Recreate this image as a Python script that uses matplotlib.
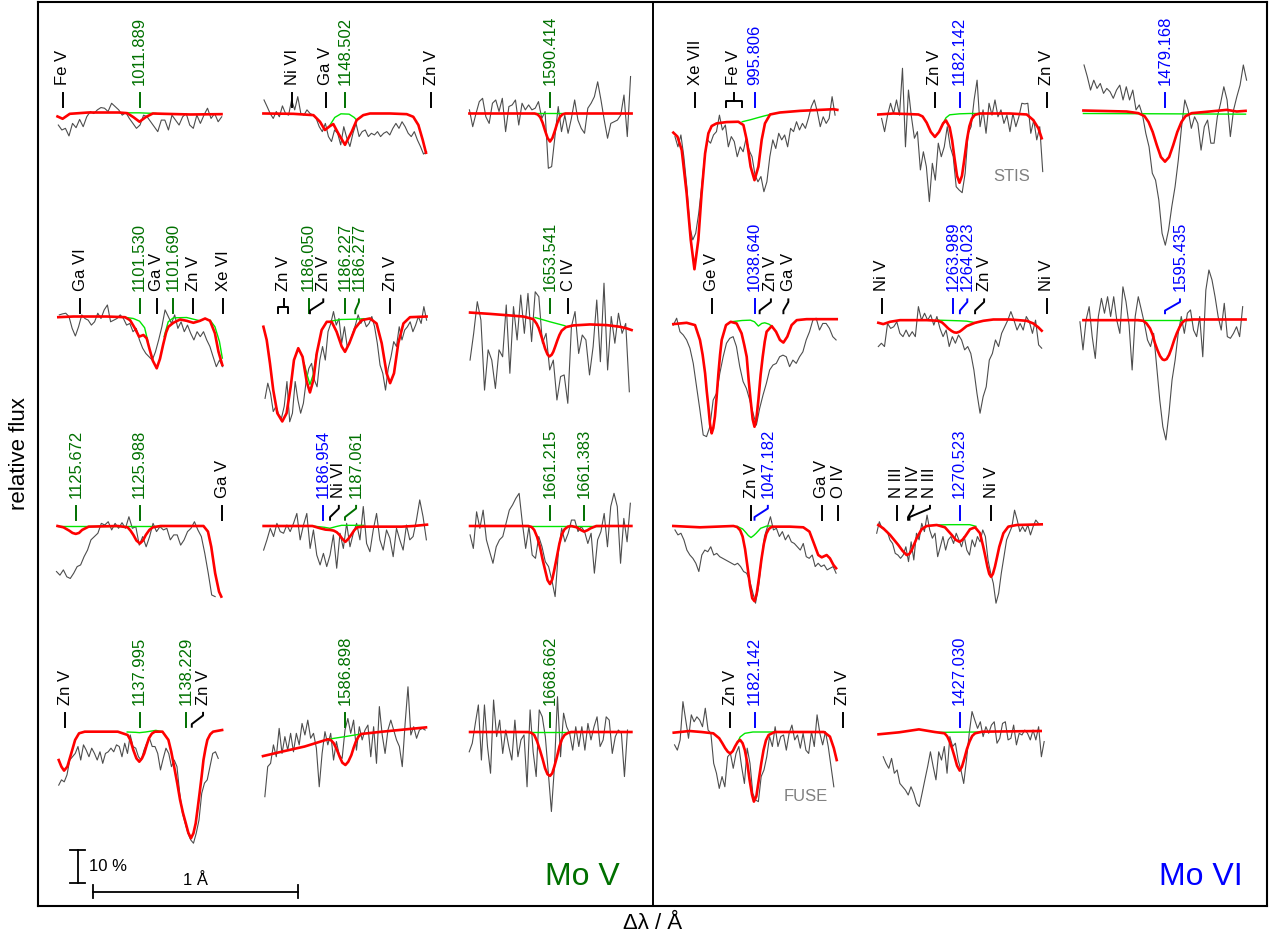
import numpy as np
import matplotlib
matplotlib.use("Agg")
import matplotlib.pyplot as plt

plt.rcParams['font.family'] = ['Liberation Sans', 'DejaVu Sans']

nan = np.nan

# ---------------- Mo V panels ----------------
# 1011.889
g_1011_rng = (-0.396, 0.401)
g_1011 = [0.962, 0.947, 0.952, 0.929, 0.967, 0.954, 0.979, 0.957, 0.987, 1.003, 0.997, 1.008, 1.015, 1.013, 1.003, 1.028,
          1.018, 1.008, 0.992, 1.0, 0.982, 0.967, 0.952, 0.962, 0.992, 0.987, 0.972, 0.957, 0.942, 0.977, 0.977, 0.947,
          0.992, 0.977, 0.962, 0.987, 0.997, 0.962, 0.952, 0.992, 0.967, 0.992, 1.013, 0.982, 0.997, 0.972, 0.987]
r_1011_dl = [-0.40, -0.375, -0.34, -0.25, -0.10, -0.06, -0.03, 0.0, 0.03, 0.065, 0.12, 0.25, 0.40]
r_1011 = [0.988, 0.981, 0.996, 1.0, 1.0, 0.998, 0.986, 0.972, 0.986, 0.997, 0.996, 0.994, 0.995]
gr_1011_dl = [-0.08, 0.0, 0.08]
gr_1011 = [0.999, 0.999, 0.997]
ids_1011 = [(-0.375, -0.375, 'Fe V', 'x'), (0.0, 0.0, '1011.889', 'v')]

# 1148.502
g_1148_rng = (-0.395, 0.398)
g_1148 = [1.038, 1.018, 0.997, 0.982, 1.003, 0.987, 1.020, 0.997, 0.992, 1.038, 1.008, 1.048, 0.997, 0.992, 1.008, 0.997,
          0.992, 0.982, 0.957, 0.942, 0.967, 0.927, 0.912, 0.947, 0.937, 0.902, 0.957, 0.922, 0.897, 0.937, 0.967, 0.927,
          0.942, 0.947, 0.927, 0.937, 0.932, 0.942, 0.927, 0.937, 0.942, 0.932, 0.952, 0.967, 0.952, 0.972, 0.957, 0.937,
          0.927, 0.942, 0.917, 0.897, 0.874, 0.881]
r_1148_dl = [-0.398, -0.252, -0.154, -0.122, -0.098, -0.073, -0.057, -0.033, 0.0, 0.033, 0.057, 0.089, 0.122, 0.22,
             0.301, 0.333, 0.358, 0.379, 0.395]
r_1148 = [0.997, 0.996, 0.992, 0.972, 0.947, 0.959, 0.965, 0.937, 0.902, 0.942, 0.977, 0.992, 0.997, 0.997, 0.995, 0.987,
          0.962, 0.917, 0.878]
gr_1148_dl = [-0.075, -0.05, -0.02, 0.02, 0.045, 0.057]
gr_1148 = [0.96, 0.985, 0.996, 0.995, 0.985, 0.977]
ids_1148 = [(-0.257, -0.257, 'Ni VI', 'x'), (-0.094, -0.094, 'Ga V', 'x'), (0.0, 0.0, '1148.502', 'v'),
            (0.42, 0.42, 'Zn V', 'x')]

# 1590.414
g_1590_rng = (-0.393, 0.393)
g_1590 = [1.008, 0.957, 0.997, 1.033, 1.043, 0.987, 0.967, 1.028, 1.038, 1.003, 1.043, 0.942, 1.018, 1.023, 1.038, 0.962,
          1.028, 1.008, 1.023, 1.008, 1.013, 1.033, 0.982, 1.003, 0.831, 0.836, 0.927, 1.018, 0.942, 0.992, 0.937, 0.982,
          1.038, 0.977, 0.952, 0.937, 1.013, 1.028, 1.048, 1.093, 1.038, 0.977, 0.922, 0.967, 0.972, 0.977, 0.992, 1.053,
          0.927, 1.109]
r_1590_dl = [-0.393, -0.075, -0.06, -0.048, -0.036, -0.024, -0.012, 0.0, 0.012, 0.024, 0.036, 0.048, 0.06, 0.075, 0.398]
r_1590 = [0.997, 0.997, 0.994, 0.986, 0.969, 0.945, 0.923, 0.912, 0.923, 0.945, 0.969, 0.986, 0.994, 0.997, 0.997]
gr_1590_dl = [-0.09, 0.09]
gr_1590 = [0.997, 0.997]
ids_1590 = [(0.0, 0.0, '1590.414', 'v')]

# 1101.530 / 1101.690
g_1101_rng = (-0.391, 0.406)
g_1101 = [1.011, 1.014, 1.016, 1.006, 0.970, 0.947, 0.975, 1.011, 1.0, 0.995, 0.980, 0.990, 1.016, 1.0, 1.026, 1.041,
          0.990, 0.995, 1.0, 1.011, 1.0, 0.980, 0.985, 0.960, 0.970, 0.935, 0.910, 0.894, 0.884, 0.874, 0.899, 0.935,
          0.975, 1.026, 1.006, 0.985, 1.011, 0.970, 0.990, 0.960, 0.980, 0.955, 0.935, 0.960, 0.945, 0.960, 0.935, 0.915,
          0.884, 0.854, 0.874, 0.854]
r_1101_dl = [-0.396, -0.323, -0.16, -0.071, -0.046, -0.022, -0.002, 0.019, 0.035, 0.05, 0.065, 0.084, 0.1, 0.115, 0.13,
             0.141, 0.165, 0.198, 0.23, 0.263, 0.295, 0.32, 0.344, 0.368, 0.385, 0.404]
r_1101 = [1.004, 1.006, 1.006, 1.004, 0.995, 0.970, 0.945, 0.950, 0.940, 0.905, 0.872, 0.849, 0.878, 0.920, 0.958, 0.975,
          0.987, 0.997, 0.993, 0.987, 0.993, 1.0, 0.993, 0.955, 0.90, 0.859]
gr_1101_dl = [-0.075, -0.03, 0.0, 0.025, 0.043, nan, 0.12, 0.14, 0.165, 0.23, 0.295, nan, 0.344, 0.368, 0.39, 0.404]
gr_1101 = [1.004, 1.0, 0.992, 0.972, 0.925, nan, 0.945, 0.99, 1.002, 1.003, 0.993, nan, 0.995, 0.975, 0.93, 0.88]
ids_1101 = [(-0.29, -0.29, 'Ga VI', 'x'), (0.0, 0.0, '1101.530', 'v'), (0.084, 0.084, 'Ga V', 'x'),
            (0.163, 0.163, '1101.690', 'v'), (0.263, 0.263, 'Zn V', 'x'), (0.409, 0.409, 'Xe VI', 'x')]

# 1186.050 / 1186.227 / 1186.277
g_1186_rng = (-0.39, 0.398)
g_1186 = [0.758, 0.804, 0.773, 0.718, 0.734, 0.708, 0.698, 0.734, 0.809, 0.687, 0.713, 0.809, 0.753, 0.713, 0.743, 0.809,
          0.849, 0.864, 0.814, 0.793, 0.874, 0.915, 0.874, 0.960, 0.985, 1.021, 0.980, 1.0, 0.925, 0.975, 0.915, 0.930,
          0.955, 0.980, 1.011, 0.985, 1.0, 0.975, 0.985, 1.006, 0.975, 0.925, 0.859, 0.834, 0.783, 0.849, 0.884, 0.930,
          0.915, 0.975, 0.935, 0.965, 0.975, 0.990, 0.960, 0.980, 1.006, 0.985, 1.036, 0.995]
r_1186_dl = [-0.398, -0.382, -0.366, -0.350, -0.330, -0.306, -0.285, -0.265, -0.249, -0.228, -0.207, -0.187, -0.171,
             -0.154, -0.138, -0.114, -0.089, -0.065, -0.041, -0.016, 0.0, 0.021, 0.049, 0.081, 0.122, 0.154, 0.179,
             0.203, 0.220, 0.239, 0.260, 0.285, 0.317, 0.398]
r_1186 = [0.975, 0.935, 0.864, 0.783, 0.713, 0.688, 0.713, 0.793, 0.874, 0.910, 0.884, 0.809, 0.776, 0.814, 0.894, 0.965,
          0.990, 0.990, 0.960, 0.915, 0.899, 0.925, 0.970, 0.995, 1.0, 0.985, 0.925, 0.834, 0.804, 0.834, 0.925, 0.985,
          1.004, 1.006]
gr_1186_dl = [-0.2, -0.185, -0.171, -0.155, -0.14, nan, -0.07, -0.02, 0.05, 0.12]
gr_1186 = [0.865, 0.83, 0.80, 0.83, 0.89, nan, 0.992, 0.997, 0.998, 1.0]
ids_1186 = [((-0.325, -0.28), -0.30, 'Zn V', 'x'), (-0.177, -0.177, '1186.050', 'v'), (-0.171, -0.106, 'Zn V', 'x'),
            (0.0, 0.0, '1186.227', 'v'), (0.05, 0.068, '1186.277', 'v'), (0.22, 0.22, 'Zn V', 'x')]

# 1653.541
g_1653_rng = (-0.39, 0.387)
g_1653 = [0.874, 0.955, 1.051, 0.995, 0.783, 0.905, 0.874, 0.788, 0.905, 0.884, 1.041, 0.834, 1.036, 0.935, 1.071, 0.955,
          1.076, 0.930, 1.081, 1.066, 0.925, 0.955, 0.844, 0.874, 0.753, 0.824, 0.829, 0.743, 0.975, 1.021, 0.894, 0.950,
          0.935, 0.829, 0.915, 1.056, 0.869, 1.107, 0.844, 1.006, 0.925, 1.016, 0.955, 0.985, 0.778]
r_1653_dl = [-0.39, -0.293, -0.211, -0.130, -0.081, -0.065, -0.055, -0.046, -0.035, -0.024, -0.012, -0.003, 0.008, 0.016,
             0.026, 0.036, 0.046, 0.057, 0.078, 0.114, 0.195, 0.276, 0.341, 0.374, 0.398]
r_1653 = [1.018, 1.014, 1.010, 1.006, 0.998, 0.984, 0.971, 0.954, 0.932, 0.909, 0.891, 0.885, 0.890, 0.899, 0.916, 0.934,
          0.950, 0.963, 0.974, 0.979, 0.982, 0.980, 0.975, 0.970, 0.965]
gr_1653_dl = [-0.073, 0.0, 0.073]
gr_1653 = [1.003, 0.99, 0.978]
ids_1653 = [(0.0, 0.0, '1653.541', 'v'), (0.089, 0.089, 'C IV', 'x')]

# 1125.672 / 1125.988
g_1125_rng = (-0.405, 0.369)
g_1125 = [0.859, 0.848, 0.864, 0.843, 0.838, 0.854, 0.874, 0.879, 0.904, 0.924, 0.955, 0.965, 0.975, 1.005, 1.0, 1.010,
          0.985, 1.005, 0.990, 1.007, 0.990, 1.025, 0.990, 0.995, 0.939, 0.965, 0.934, 0.965, 1.005, 0.980, 0.995, 0.985,
          0.990, 0.955, 0.970, 0.970, 0.939, 0.955, 0.980, 0.990, 1.010, 0.985, 0.965, 0.914, 0.854, 0.788, 0.783]
r_1125_dl = [-0.40, -0.371, -0.343, -0.327, -0.311, -0.295, -0.28, -0.248, -0.106, -0.058, -0.044, -0.030, -0.015, 0.002,
             0.017, 0.031, 0.048, 0.065, 0.103, 0.312, 0.334, 0.350, 0.369, 0.388, 0.399]
r_1125 = [0.997, 0.993, 0.983, 0.976, 0.973, 0.976, 0.985, 0.995, 0.997, 0.993, 0.983, 0.970, 0.953, 0.944, 0.953, 0.970,
          0.985, 0.993, 0.997, 0.997, 0.980, 0.934, 0.854, 0.798, 0.783]
gr_1125_dl = [-0.40, 0.12]
gr_1125 = [0.997, 0.997]
ids_1125 = [(-0.31, -0.31, '1125.672', 'v'), (0.0, 0.0, '1125.988', 'v'), (0.403, 0.403, 'Ga V', 'x')]

# 1186.954 (Mo VI) / 1187.061
g_1187_rng = (-0.397, 0.397)
g_1187 = [0.924, 0.955, 0.990, 0.965, 1.005, 0.980, 0.975, 1.0, 0.980, 1.005, 1.035, 0.955, 1.0, 1.035, 0.929, 0.985,
          0.909, 0.879, 0.914, 0.874, 0.909, 0.970, 0.869, 0.975, 0.929, 1.005, 0.934, 0.975, 1.005, 0.955, 1.056, 0.944,
          0.919, 0.985, 1.035, 0.955, 0.924, 0.985, 0.960, 0.904, 0.990, 0.955, 0.924, 1.0, 0.955, 0.965, 1.015, 1.076,
          1.025, 0.955]
r_1187_dl = [-0.397, -0.159, -0.121, -0.095, -0.074, -0.055, -0.04, -0.027, -0.013, 0.002, 0.016, 0.030, 0.045, 0.059,
             0.087, 0.220, 0.277, 0.334, 0.400]
r_1187 = [0.997, 0.997, 0.990, 0.986, 0.985, 0.983, 0.978, 0.970, 0.958, 0.949, 0.958, 0.970, 0.984, 0.993, 0.995, 0.995,
          0.995, 0.997, 1.001]
gr_1187_dl = [-0.16, -0.1, -0.074, -0.045, -0.017, 0.09]
gr_1187 = [0.997, 0.993, 0.990, 0.995, 0.999, 0.999]
ids_1187 = [(-0.107, -0.107, '1186.954', 'vi'), (-0.073, -0.03, 'Ni VI', 'x'), (0.0, 0.054, '1187.061', 'v')]

# 1661.215 / 1661.383
g_1661_rng = (-0.390, 0.392)
g_1661 = [0.970, 0.929, 1.040, 0.990, 1.045, 0.955, 0.919, 0.884, 0.934, 0.955, 0.965, 1.005, 1.045, 1.061, 1.081, 1.096,
          1.005, 0.929, 0.995, 0.909, 0.899, 0.965, 0.934, 0.889, 0.874, 0.833, 0.783, 0.919, 0.990, 0.949, 0.975, 1.015,
          1.015, 0.980, 0.995, 0.980, 0.944, 0.975, 0.854, 0.955, 0.980, 1.035, 0.934, 1.056, 1.096, 1.056, 0.884, 1.020,
          0.949, 1.066]
r_1661_dl = [-0.390, -0.106, -0.09, -0.077, -0.063, -0.049, -0.036, -0.024, -0.012, 0.0, 0.011, 0.021, 0.034, 0.046,
             0.058, 0.071, 0.087, 0.103, 0.131, 0.15, 0.166, 0.182, 0.198, 0.226, 0.397]
r_1661 = [0.997, 0.997, 0.994, 0.985, 0.964, 0.934, 0.895, 0.864, 0.833, 0.821, 0.835, 0.864, 0.905, 0.944, 0.972, 0.987,
          0.995, 0.997, 0.993, 0.985, 0.980, 0.984, 0.990, 0.997, 0.997]
gr_1661_dl = [-0.12, 0.25]
gr_1661 = [0.997, 0.997]
ids_1661 = [(0.0, 0.0, '1661.215', 'v'), (0.168, 0.168, '1661.383', 'v')]

# 1137.995 / 1138.229
g_1137_rng = (-0.394, 0.384)
g_1137 = [0.839, 0.855, 0.849, 0.870, 0.915, 0.925, 0.935, 0.956, 0.915, 0.961, 0.945, 0.925, 0.951, 0.935, 0.915, 0.940,
          0.905, 0.935, 0.940, 0.951, 0.940, 0.961, 0.956, 0.925, 0.966, 0.935, 0.991, 0.956, 0.951, 0.925, 0.915, 0.945,
          0.966, 0.981, 0.956, 0.956, 0.935, 0.885, 0.920, 0.951, 0.935, 0.895, 0.915, 0.895, 0.814, 0.754, 0.723, 0.693,
          0.673, 0.663, 0.693, 0.733, 0.814, 0.845, 0.855, 0.895, 0.935, 0.940, 0.920]
r_1137_dl = [-0.394, -0.381, -0.368, -0.352, -0.333, -0.314, -0.295, -0.267, -0.106, -0.058, -0.044, -0.030, -0.015,
             -0.001, 0.012, 0.023, 0.035, 0.046, 0.06, 0.075, 0.112, 0.141, 0.155, 0.169, 0.184, 0.198, 0.212, 0.226,
             0.238, 0.251, 0.263, 0.274, 0.284, 0.293, 0.303, 0.312, 0.322, 0.331, 0.345, 0.359, 0.403]
r_1137 = [0.915, 0.895, 0.883, 0.895, 0.935, 0.976, 0.996, 1.001, 1.001, 0.991, 0.975, 0.945, 0.92, 0.910, 0.92, 0.935,
          0.96, 0.981, 0.995, 1.001, 1.001, 0.976, 0.94, 0.895, 0.845, 0.794, 0.755, 0.723, 0.695, 0.678, 0.693, 0.723,
          0.77, 0.814, 0.865, 0.915, 0.95, 0.976, 0.993, 1.001, 1.006]
gr_1137_dl = [-0.06, -0.02, 0.0, 0.03, 0.08, 0.11]
gr_1137 = [1.0, 0.999, 0.998, 1.0, 1.005, 1.001]
ids_1137 = [(-0.362, -0.362, 'Zn V', 'x'), (0.0, 0.0, '1137.995', 'v'), (0.228, 0.228, '1138.229', 'v'),
            (0.255, 0.31, 'Zn V', 'x')]

# 1586.898
g_1586_rng = (-0.391, 0.391)
g_1586 = [0.804, 0.895, 0.905, 0.961, 0.925, 1.011, 0.935, 0.986, 0.945, 0.996, 0.940, 0.996, 0.961, 1.026, 0.991, 1.036,
          0.981, 0.996, 0.951, 0.834, 0.935, 1.001, 0.961, 0.996, 0.915, 0.971, 0.930, 0.920, 1.006, 1.041, 0.996, 1.036,
          0.945, 1.016, 0.976, 1.006, 1.021, 0.925, 1.016, 0.905, 1.077, 0.991, 0.935, 1.006, 1.036, 1.006, 0.976, 0.956,
          0.895, 1.026, 1.137, 0.991, 1.016, 0.981, 1.006, 1.011, 1.006]
r_1586_dl = [-0.400, -0.311, -0.197, -0.083, -0.068, -0.055, -0.04, -0.026, -0.013, 0.002, 0.016, 0.031, 0.042, 0.053,
             0.065, 0.078, 0.182, 0.296, 0.395]
r_1586 = [0.927, 0.940, 0.956, 0.978, 0.975, 0.966, 0.947, 0.925, 0.907, 0.900, 0.910, 0.930, 0.952, 0.971, 0.985, 0.994,
          1.001, 1.008, 1.014]
gr_1586_dl = [-0.083, 0.0, 0.078]
gr_1586 = [0.978, 0.986, 0.994]
ids_1586 = [(0.0, 0.0, '1586.898', 'v')]

# 1668.662
g_1668_rng = (-0.394, 0.378)
g_1668 = [0.940, 0.966, 1.026, 1.082, 0.915, 1.082, 0.956, 0.875, 1.097, 0.986, 1.036, 0.935, 1.006, 0.956, 0.915, 1.036,
          0.925, 0.976, 0.991, 0.834, 1.067, 0.940, 0.865, 1.067, 1.046, 0.986, 0.875, 0.759, 0.895, 1.107, 0.925, 1.057,
          1.016, 0.996, 0.945, 1.016, 0.956, 1.016, 0.945, 1.026, 0.976, 1.016, 1.046, 0.956, 0.976, 1.046, 1.036, 0.935,
          0.986, 1.006, 0.996, 0.865, 1.006]
r_1668_dl = [-0.390, -0.106, -0.09, -0.077, -0.063, -0.049, -0.036, -0.024, -0.012, 0.0, 0.011, 0.021, 0.034, 0.046,
             0.058, 0.071, 0.087, 0.103, 0.397]
r_1668 = [1.0, 1.0, 0.997, 0.991, 0.972, 0.945, 0.918, 0.89, 0.872, 0.867, 0.875, 0.895, 0.925, 0.956, 0.978, 0.991,
          0.997, 1.0, 1.0]
gr_1668_dl = [-0.12, 0.12]
gr_1668 = [1.0, 1.0]
ids_1668 = [(0.0, 0.0, '1668.662', 'v')]

# ---------------- Mo VI panels ----------------
# 995.806
g_995_rng = (-0.388, 0.393)
g_995 = [0.927, 0.896, 0.932, 0.866, 0.775, 0.654, 0.614, 0.634, 0.694, 0.775, 0.866, 0.917, 0.907, 0.932, 0.942, 0.992,
         0.947, 0.962, 0.896, 0.927, 0.912, 0.866, 0.896, 0.881, 0.922, 0.886, 0.866, 0.811, 0.790, 0.806, 0.760, 0.790,
         0.866, 0.917, 0.891, 0.937, 0.917, 0.932, 0.896, 0.952, 0.942, 0.972, 0.947, 0.967, 0.952, 0.982, 1.018, 1.038,
         1.003, 0.957, 0.987, 0.967, 0.982, 1.048, 0.992]
r_995_dl = [-0.396, -0.376, -0.355, -0.331, -0.311, -0.293, -0.274, -0.258, -0.241, -0.225, -0.209, -0.185, -0.136,
            -0.079, -0.054, -0.038, -0.019, 0.0, 0.019, 0.035, 0.051, 0.076, 0.124, 0.222, 0.32, 0.385, 0.404]
r_995 = [0.939, 0.927, 0.886, 0.755, 0.614, 0.525, 0.614, 0.755, 0.876, 0.937, 0.959, 0.967, 0.971, 0.972, 0.962, 0.917,
         0.836, 0.795, 0.836, 0.917, 0.967, 0.994, 1.0, 1.005, 1.008, 1.01, 1.008]
gr_995_dl = [-0.06, -0.02, 0.02, 0.05, 0.077]
gr_995 = [0.972, 0.978, 0.985, 0.99, 0.994]
ids_995 = [(-0.29, -0.29, 'Xe VII', 'x'), ((-0.139, -0.063), -0.101, 'Fe V', 'x'), (0.0, 0.0, '995.806', 'vi')]

# 1182.142 (STIS)
g_1182s_rng = (-0.380, 0.406)
g_1182s = [0.982, 0.942, 0.992, 1.028, 0.997, 1.038, 0.992, 1.134, 0.896, 1.068, 0.987, 0.922, 0.942, 0.826, 0.881,
           0.836, 0.730, 0.846, 0.795, 0.907, 0.866, 0.896, 0.957, 0.896, 0.866, 0.775, 0.765, 0.757, 0.816, 0.937,
           0.957, 1.038, 1.098, 0.957, 1.008, 0.937, 1.028, 0.992, 1.038, 0.987, 1.008, 0.967, 0.992, 0.942, 0.997,
           0.957, 0.987, 1.028, 1.026, 1.028, 0.937, 0.977, 0.917, 0.957, 0.821]
r_1182s_dl = [-0.396, -0.323, -0.241, -0.2, -0.18, -0.16, -0.14, -0.12, -0.10, -0.08, -0.066, -0.048, -0.036, -0.024,
              -0.012, 0.0, 0.012, 0.024, 0.036, 0.048, 0.06, 0.075, 0.1, 0.246, 0.328, 0.36, 0.385, 0.401]
r_1182s = [0.994, 0.997, 0.995, 0.994, 0.988, 0.969, 0.941, 0.926, 0.941, 0.967, 0.976, 0.955, 0.916, 0.86, 0.808,
           0.787, 0.808, 0.86, 0.916, 0.958, 0.981, 0.993, 0.997, 0.997, 0.994, 0.977, 0.952, 0.922]
gr_1182s_dl = [-0.09, -0.066, -0.048, 0.0, 0.05, 0.1]
gr_1182s = [0.955, 0.984, 0.993, 0.996, 0.997, 0.997]
ids_1182s = [(-0.12, -0.12, 'Zn V', 'x'), (0.0, 0.0, '1182.142', 'vi'), (0.425, 0.425, 'Zn V', 'x')]

# 1479.168
g_1479_rng = (-0.395, 0.398)
g_1479 = [1.144, 1.109, 1.068, 1.098, 1.073, 1.088, 1.058, 1.073, 1.063, 1.043, 1.068, 1.083, 1.038, 1.078, 1.038, 1.068,
          1.008, 1.023, 0.992, 0.937, 0.896, 0.816, 0.795, 0.735, 0.634, 0.598, 0.644, 0.715, 0.775, 0.856, 0.957, 1.038,
          1.008, 0.952, 0.987, 0.967, 0.886, 0.957, 0.977, 0.907, 0.907, 0.987, 1.028, 1.078, 1.038, 0.927, 1.008, 1.048,
          1.083, 1.144, 1.098]
r_1479_dl = [-0.398, -0.187, -0.13, -0.1, -0.08, -0.06, -0.04, -0.02, 0.0, 0.02, 0.04, 0.06, 0.08, 0.1, 0.13, 0.2,
             0.268, 0.301, 0.35, 0.393]
r_1479 = [1.006, 1.003, 0.998, 0.989, 0.971, 0.941, 0.901, 0.865, 0.851, 0.865, 0.901, 0.941, 0.971, 0.989, 0.998, 1.002,
          1.006, 1.008, 1.003, 1.005]
gr_1479_dl = [-0.398, 0.393]
gr_1479 = [0.997, 0.995]
ids_1479 = [(0.0, 0.0, '1479.168', 'vi')]

# 1038.640
g_1038_rng = (-0.396, 0.398)
g_1038 = [0.980, 1.001, 0.960, 0.950, 0.935, 0.910, 0.864, 0.793, 0.723, 0.647, 0.642, 0.672, 0.753, 0.773, 0.834, 0.884,
          0.925, 0.940, 0.945, 0.915, 0.854, 0.809, 0.788, 0.753, 0.713, 0.677, 0.728, 0.768, 0.803, 0.844, 0.859, 0.864,
          0.884, 0.889, 0.884, 0.854, 0.874, 0.864, 0.884, 0.899, 0.935, 0.960, 0.995, 1.001, 0.965, 0.985, 0.985, 0.970,
          0.945, 0.935]
r_1038_dl = [-0.396, -0.331, -0.29, -0.266, -0.253, -0.241, -0.233, -0.225, -0.217, -0.209, -0.201, -0.193, -0.185,
             -0.176, -0.168, -0.160, -0.139, -0.116, -0.087, -0.063, -0.05, -0.038, -0.028, -0.019, -0.009, 0.0, 0.009,
             0.019, 0.03, 0.04, 0.05, 0.059, 0.084, 0.105, 0.124, 0.141, 0.160, 0.181, 0.206, 0.254, 0.401]
r_1038 = [0.983, 0.987, 0.98, 0.935, 0.89, 0.834, 0.78, 0.733, 0.68, 0.652, 0.668, 0.703, 0.76, 0.834, 0.89, 0.935, 0.98,
          0.99, 0.985, 0.955, 0.92, 0.884, 0.81, 0.753, 0.695, 0.672, 0.695, 0.753, 0.83, 0.884, 0.93, 0.96, 0.977, 0.96,
          0.935, 0.927, 0.945, 0.98, 0.995, 0.998, 0.998]
gr_1038_dl = [-0.116, -0.06, -0.02, 0.0, 0.019, 0.035, 0.05, 0.07, 0.084]
gr_1038 = [0.99, 0.994, 0.995, 0.99, 0.977, 0.985, 0.987, 0.983, 0.977]
ids_1038 = [(-0.209, -0.209, 'Ge V', 'x'), (0.0, 0.0, '1038.640', 'vi'), (0.025, 0.08, 'Zn V', 'x'),
            (0.141, 0.165, 'Ga V', 'x')]

# 1263.989 / 1264.023
g_1263_rng = (-0.396, 0.401)
g_1263 = [0.915, 0.925, 0.915, 0.985, 0.970, 0.975, 0.990, 0.955, 0.945, 0.965, 0.945, 0.960, 0.945, 1.036, 0.995, 1.016,
          0.995, 1.011, 0.980, 1.006, 0.970, 0.945, 0.965, 0.915, 0.945, 0.925, 0.950, 0.935, 0.905, 0.915, 0.894, 0.844,
          0.773, 0.713, 0.763, 0.793, 0.874, 0.894, 0.935, 0.915, 0.955, 0.975, 0.995, 1.021, 0.995, 0.965, 0.985, 0.965,
          1.006, 0.990, 0.955, 0.995, 0.920, 0.910]
r_1263_dl = [-0.396, -0.372, -0.339, -0.29, -0.16, -0.103, -0.085, -0.071, -0.055, -0.038, -0.026, -0.014, 0.0, 0.011,
             0.035, 0.076, 0.116, 0.165, 0.246, 0.328, 0.36, 0.385, 0.401]
r_1263 = [0.987, 0.983, 0.990, 0.995, 0.995, 0.993, 0.988, 0.980, 0.97, 0.962, 0.958, 0.957, 0.96, 0.965, 0.977, 0.987,
          0.993, 0.997, 0.997, 0.993, 0.985, 0.973, 0.963]
gr_1263_dl = [-0.103, -0.05, 0.0, 0.035, 0.08]
gr_1263 = [0.995, 0.994, 0.993, 0.992, 0.987]
ids_1263 = [(-0.38, -0.38, 'Ni V', 'x'), (-0.03, -0.03, '1263.989', 'vi'), (0.002, 0.038, '1264.023', 'vi'),
            (0.076, 0.12, 'Zn V', 'x'), (0.425, 0.425, 'Ni V', 'x')]

# 1595.435
g_1595_rng = (-0.415, 0.379)
g_1595 = [0.990, 0.905, 0.995, 1.036, 0.945, 0.879, 1.006, 1.061, 1.016, 1.066, 1.006, 1.066, 0.995, 0.955, 1.096, 1.051,
          0.980, 0.844, 1.006, 1.066, 1.026, 0.985, 0.935, 0.915, 0.955, 0.854, 0.753, 0.672, 0.632, 0.713, 0.814, 0.874,
          0.955, 1.006, 0.955, 1.016, 1.026, 0.965, 0.945, 1.006, 0.884, 1.086, 1.147, 1.117, 1.066, 1.006, 0.965, 1.046,
          0.945, 0.940, 0.955, 0.975, 0.945, 1.036]
r_1595_dl = [-0.398, -0.13, -0.106, -0.09, -0.073, -0.06, -0.049, -0.036, -0.024, -0.012, -0.003, 0.008, 0.02, 0.032,
             0.045, 0.058, 0.072, 0.085, 0.098, 0.138, 0.393]
r_1595 = [0.995, 0.995, 0.993, 0.985, 0.970, 0.950, 0.925, 0.903, 0.886, 0.876, 0.874, 0.877, 0.89, 0.91, 0.935, 0.956,
          0.975, 0.988, 0.995, 0.997, 0.997]
gr_1595_dl = [-0.13, 0.13]
gr_1595 = [0.996, 0.996]
ids_1595 = [(0.0, 0.073, '1595.435', 'vi')]

# 1047.182
g_1047_rng = (-0.388, 0.398)
g_1047 = [0.985, 0.970, 0.975, 0.955, 0.924, 0.909, 0.899, 0.884, 0.859, 0.909, 0.924, 0.919, 0.934, 0.909, 0.914, 0.904,
          0.899, 0.894, 0.889, 0.884, 0.879, 0.884, 0.874, 0.859, 0.854, 0.833, 0.798, 0.763, 0.813, 0.894, 0.965, 0.995,
          1.025, 0.985, 0.990, 0.965, 0.980, 0.955, 0.970, 0.949, 0.944, 0.934, 0.924, 0.944, 0.904, 0.899, 0.909, 0.874,
          0.884, 0.874, 0.879, 0.864, 0.869, 0.874, 0.854]
r_1047_dl = [-0.396, -0.266, -0.185, -0.103, -0.085, -0.07, -0.058, -0.046, -0.034, -0.022, -0.011, 0.0, 0.011, 0.022,
             0.034, 0.046, 0.058, 0.07, 0.085, 0.173, 0.238, 0.268, 0.29, 0.311, 0.328, 0.352, 0.368, 0.385, 0.398]
r_1047 = [0.997, 0.993, 0.995, 0.997, 0.994, 0.984, 0.965, 0.927, 0.873, 0.816, 0.778, 0.769, 0.793, 0.84, 0.897, 0.944,
          0.974, 0.988, 0.995, 0.995, 0.993, 0.980, 0.944, 0.909, 0.902, 0.909, 0.899, 0.879, 0.869]
gr_1047_dl = [-0.085, -0.058, -0.042, -0.03, -0.017, -0.004, 0.008, 0.03, 0.06, 0.08]
gr_1047 = [0.996, 0.988, 0.977, 0.968, 0.962, 0.968, 0.975, 0.99, 0.997, 0.997]
ids_1047 = [(-0.017, -0.017, 'Zn V', 'x'), (0.0, 0.065, '1047.182', 'vi'), (0.328, 0.328, 'Ga V', 'x'),
            (0.409, 0.409, 'O IV', 'x')]

# 1270.523
g_1270_rng = (-0.404, 0.385)
g_1270 = [0.975, 1.010, 0.990, 0.985, 0.980, 0.955, 0.944, 0.914, 0.909, 0.899, 0.909, 0.934, 0.889, 0.949, 0.894, 0.975,
          0.955, 1.005, 0.980, 1.030, 0.985, 0.960, 0.975, 0.904, 0.934, 0.965, 0.924, 0.955, 0.965, 0.944, 0.975, 0.955,
          0.934, 0.965, 0.924, 0.909, 0.955, 0.934, 0.965, 0.949, 0.985, 0.965, 0.894, 0.854, 0.823, 0.763, 0.793, 0.854,
          0.904, 0.955, 0.975, 0.995, 1.045, 1.015, 0.980, 0.995, 0.980, 1.0, 0.970, 0.995, 1.015, 1.005]
r_1270_dl = [-0.396, -0.372, -0.339, -0.298, -0.278, -0.258, -0.245, -0.233, -0.209, -0.185, -0.160, -0.111, -0.071,
             -0.038, -0.018, 0.0, 0.014, 0.027, 0.051, 0.076, 0.1, 0.116, 0.126, 0.136, 0.145, 0.154, 0.163, 0.173,
             0.184, 0.194, 0.214, 0.238, 0.279, 0.401]
r_1270 = [1.0, 0.990, 0.970, 0.939, 0.922, 0.909, 0.912, 0.924, 0.960, 0.987, 0.997, 1.0, 0.993, 0.970, 0.955, 0.949,
          0.955, 0.965, 0.987, 0.993, 0.975, 0.934, 0.905, 0.874, 0.852, 0.843, 0.852, 0.874, 0.905, 0.934, 0.975,
          0.995, 1.0, 1.002]
gr_1270_dl = [-0.111, -0.05, 0.05, 0.08]
gr_1270 = [1.0, 1.001, 1.001, 0.996]
ids_1270 = [(-0.307, -0.307, 'N III', 'x'), (-0.251, -0.226, 'N IV', 'x'), (-0.244, -0.144, 'N III', 'x'),
            (0.0, 0.0, '1270.523', 'vi'), (0.154, 0.154, 'Ni V', 'x')]

# 1182.142 (FUSE)
g_1182f_rng = (-0.390, 0.387)
g_1182f = [0.961, 0.945, 0.976, 1.092, 1.036, 0.981, 1.052, 1.031, 1.046, 1.036, 1.016, 1.072, 1.006, 0.996, 0.905,
           0.875, 0.829, 0.865, 0.834, 0.925, 0.935, 0.890, 0.935, 0.956, 0.895, 0.844, 0.951, 0.905, 0.814, 0.794,
           0.789, 0.865, 0.885, 0.925, 0.986, 0.956, 1.016, 0.956, 0.986, 0.991, 0.945, 0.996, 1.021, 0.976, 0.991,
           0.951, 0.996, 0.945, 0.935, 1.001, 0.956, 1.052, 0.996, 0.961, 1.001, 0.956, 0.895, 0.834]
r_1182f_dl = [-0.394, -0.317, -0.259, -0.201, -0.172, -0.157, -0.143, -0.13, -0.118, -0.106, -0.095, -0.082, -0.07,
              -0.058, -0.047, -0.035, -0.024, -0.012, -0.003, 0.009, 0.021, 0.033, 0.044, 0.056, 0.069, 0.098, 0.339,
              0.368, 0.387, 0.401]
r_1182f = [0.998, 1.003, 1.0, 0.996, 0.981, 0.966, 0.951, 0.94, 0.935, 0.942, 0.956, 0.97, 0.976, 0.966, 0.945, 0.905,
           0.855, 0.81, 0.789, 0.805, 0.855, 0.905, 0.945, 0.975, 0.991, 1.0, 1.0, 0.986, 0.951, 0.915]
gr_1182f_dl = [-0.082, -0.07, -0.047, -0.008, 0.09]
gr_1182f = [0.97, 0.985, 0.996, 1.0, 1.0]
ids_1182f = [(-0.118, -0.118, 'Zn V', 'x'), (0.0, 0.0, '1182.142', 'vi'), (0.43, 0.43, 'Zn V', 'x')]

# 1427.030
g_1427_rng = (-0.372, 0.413)
g_1427 = [0.925, 0.905, 0.890, 0.920, 0.875, 0.885, 0.844, 0.834, 0.824, 0.809, 0.834, 0.814, 0.784, 0.774, 0.814, 0.855,
          0.895, 0.940, 0.895, 0.855, 0.940, 0.915, 0.956, 0.875, 0.986, 0.956, 0.966, 0.915, 0.885, 0.844, 0.915, 0.996,
          1.062, 1.036, 1.011, 1.031, 0.986, 1.016, 0.996, 1.021, 1.031, 0.966, 0.981, 1.026, 1.031, 0.976, 0.981, 1.021,
          0.961, 0.996, 0.991, 1.006, 0.996, 0.976, 1.006, 0.976, 1.016, 0.925, 0.971]
r_1427_dl = [-0.395, -0.295, -0.198, -0.121, -0.073, -0.06, -0.048, -0.036, -0.024, -0.012, 0.001, 0.012, 0.024, 0.036,
             0.049, 0.062, 0.076, 0.111, 0.396]
r_1427 = [0.993, 0.999, 1.008, 1.0, 0.996, 0.987, 0.971, 0.95, 0.925, 0.898, 0.883, 0.895, 0.920, 0.948, 0.971, 0.988,
          0.996, 1.001, 1.003]
gr_1427_dl = [-0.1, 0.1]
gr_1427 = [0.999, 1.0]
ids_1427 = [(0.0, 0.0, '1427.030', 'vi')]

# panel table: (column, row, gray range, gray, red dl, red, green dl, green, line ids)
panels = {
    '1011': (0, 0, g_1011_rng, g_1011, r_1011_dl, r_1011, gr_1011_dl, gr_1011, ids_1011),
    '1148': (1, 0, g_1148_rng, g_1148, r_1148_dl, r_1148, gr_1148_dl, gr_1148, ids_1148),
    '1590': (2, 0, g_1590_rng, g_1590, r_1590_dl, r_1590, gr_1590_dl, gr_1590, ids_1590),
    '1101': (0, 1, g_1101_rng, g_1101, r_1101_dl, r_1101, gr_1101_dl, gr_1101, ids_1101),
    '1186': (1, 1, g_1186_rng, g_1186, r_1186_dl, r_1186, gr_1186_dl, gr_1186, ids_1186),
    '1653': (2, 1, g_1653_rng, g_1653, r_1653_dl, r_1653, gr_1653_dl, gr_1653, ids_1653),
    '1125': (0, 2, g_1125_rng, g_1125, r_1125_dl, r_1125, gr_1125_dl, gr_1125, ids_1125),
    '1187': (1, 2, g_1187_rng, g_1187, r_1187_dl, r_1187, gr_1187_dl, gr_1187, ids_1187),
    '1661': (2, 2, g_1661_rng, g_1661, r_1661_dl, r_1661, gr_1661_dl, gr_1661, ids_1661),
    '1137': (0, 3, g_1137_rng, g_1137, r_1137_dl, r_1137, gr_1137_dl, gr_1137, ids_1137),
    '1586': (1, 3, g_1586_rng, g_1586, r_1586_dl, r_1586, gr_1586_dl, gr_1586, ids_1586),
    '1668': (2, 3, g_1668_rng, g_1668, r_1668_dl, r_1668, gr_1668_dl, gr_1668, ids_1668),
    '995': (3, 0, g_995_rng, g_995, r_995_dl, r_995, gr_995_dl, gr_995, ids_995),
    '1182s': (4, 0, g_1182s_rng, g_1182s, r_1182s_dl, r_1182s, gr_1182s_dl, gr_1182s, ids_1182s),
    '1479': (5, 0, g_1479_rng, g_1479, r_1479_dl, r_1479, gr_1479_dl, gr_1479, ids_1479),
    '1038': (3, 1, g_1038_rng, g_1038, r_1038_dl, r_1038, gr_1038_dl, gr_1038, ids_1038),
    '1263': (4, 1, g_1263_rng, g_1263, r_1263_dl, r_1263, gr_1263_dl, gr_1263, ids_1263),
    '1595': (5, 1, g_1595_rng, g_1595, r_1595_dl, r_1595, gr_1595_dl, gr_1595, ids_1595),
    '1047': (3, 2, g_1047_rng, g_1047, r_1047_dl, r_1047, gr_1047_dl, gr_1047, ids_1047),
    '1270': (4, 2, g_1270_rng, g_1270, r_1270_dl, r_1270, gr_1270_dl, gr_1270, ids_1270),
    '1182f': (3, 3, g_1182f_rng, g_1182f, r_1182f_dl, r_1182f, gr_1182f_dl, gr_1182f, ids_1182f),
    '1427': (4, 3, g_1427_rng, g_1427, r_1427_dl, r_1427, gr_1427_dl, gr_1427, ids_1427),
}

# ---------------- layout ----------------
W, H = 1271, 943
PX_A = 205.0        # pixels per Angstrom
PX_F = 330.0        # pixels per unit of relative flux
COL_X = [139.5, 345, 550, 754.5, 959.5, 1165]
ROW_Y = [112.5, 318.5, 525, 732]
YLO, YHI = 0.4, 1.3

C_MO5 = '#007000'
C_MO6 = '#0000ff'
ID_COLORS = {'v': C_MO5, 'vi': C_MO6, 'x': 'black'}
T0, TB, T1, TT = 1.016, 1.036, 1.058, 1.082
FS = 12

fig = plt.figure(figsize=(W / 100, H / 100), dpi=100)

# outer frame with the Mo V / Mo VI divider
fr = fig.add_axes([38 / W, 1 - 906 / H, 1229 / W, 904 / H])
fr.set_xticks([])
fr.set_yticks([])
for s in fr.spines.values():
    s.set_linewidth(1.5)
fr.set_xlim(0, 1)
fr.axvline(0.5, color='black', lw=1.4)
fr.set_xlabel('Δλ / Å', fontsize=16, labelpad=5)
fr.set_ylabel('relative flux', fontsize=16, labelpad=6)

axes = {}
for key, (col, row, g_rng, g, r_dl, r, gr_dl, gr, ids) in panels.items():
    x0, y0 = COL_X[col], ROW_Y[row]
    ax = fig.add_axes([(x0 - 0.5 * PX_A) / W, 1 - (y0 + (1 - YLO) * PX_F) / H,
                       PX_A / W, (YHI - YLO) * PX_F / H])
    ax.set_xlim(-0.5, 0.5)
    ax.set_ylim(YLO, YHI)
    ax.axis('off')
    axes[key] = ax

    gx = np.linspace(g_rng[0], g_rng[1], len(g))
    ax.plot(gx, g, color='#4d4d4d', lw=0.8, clip_on=False, zorder=1)
    ax.plot(gr_dl, gr, color='#00e600', lw=1.0, clip_on=False, zorder=2)
    ax.plot(r_dl, r, color='#ff0000', lw=1.9, clip_on=False, zorder=3, solid_joinstyle='round')

    for dl, lab, text, kind in ids:
        c = ID_COLORS[kind]
        if isinstance(dl, tuple):
            a, b = dl
            ax.plot([a, a, b, b], [T0, TB, TB, T0], color=c, lw=1.4, clip_on=False)
            ax.plot([lab, lab], [TB, T1], color=c, lw=1.4, clip_on=False)
        elif dl == lab:
            ax.plot([dl, dl], [T0, T1], color=c, lw=1.4, clip_on=False)
        else:
            ax.plot([dl, dl, lab, lab], [T0, T0 + 0.008, T1 - 0.008, T1], color=c, lw=1.4, clip_on=False)
        ax.text(lab, TT, text, rotation=90, ha='center', va='bottom', color=c, fontsize=FS, clip_on=False)

axes['1182s'].text(0.256, 0.805, 'STIS', color='#808080', fontsize=FS, ha='center', va='center')
axes['1182f'].text(0.249, 0.805, 'FUSE', color='#808080', fontsize=FS, ha='center', va='center')

# scale bars: 10 % in flux and 1 Angstrom
sb = axes['1137']
sb.plot([-0.301, -0.301], [0.542, 0.642], color='black', lw=1.3, clip_on=False)
sb.plot([-0.338, -0.264], [0.542, 0.542], color='black', lw=1.3, clip_on=False)
sb.plot([-0.338, -0.264], [0.642, 0.642], color='black', lw=1.3, clip_on=False)
sb.text(-0.248, 0.592, '10 %', fontsize=FS, ha='left', va='center')
sb.plot([-0.225, 0.775], [0.516, 0.516], color='black', lw=1.3, clip_on=False)
sb.plot([-0.225, -0.225], [0.496, 0.536], color='black', lw=1.3, clip_on=False)
sb.plot([0.775, 0.775], [0.496, 0.536], color='black', lw=1.3, clip_on=False)
sb.text(0.275, 0.527, '1 Å', fontsize=FS, ha='center', va='bottom')

fig.text(620 / W, 1 - 885 / H, 'Mo V', color=C_MO5, fontsize=23, ha='right', va='baseline')
fig.text(1243 / W, 1 - 885 / H, 'Mo VI', color=C_MO6, fontsize=23, ha='right', va='baseline')

fig.savefig('out.png', dpi=100)
